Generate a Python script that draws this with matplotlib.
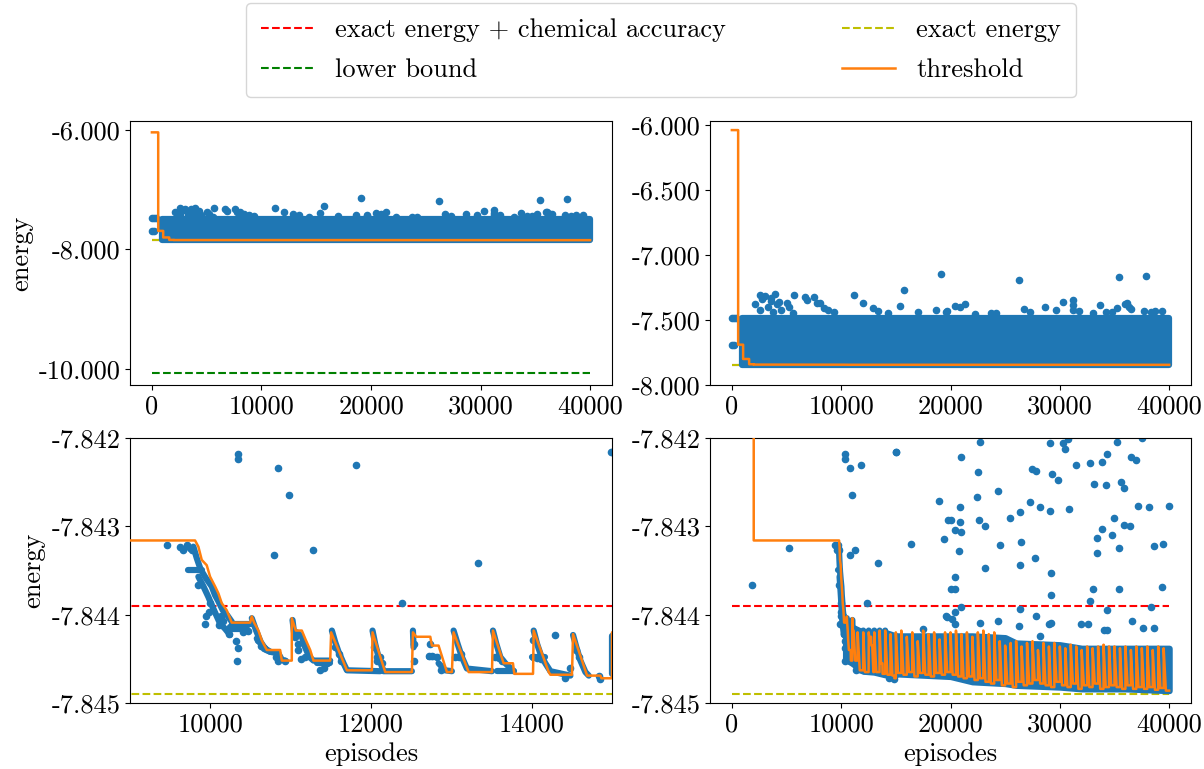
import matplotlib
matplotlib.use("Agg")
import matplotlib.pyplot as plt
from matplotlib.ticker import FuncFormatter, FixedLocator
from matplotlib.lines import Line2D

plt.rcParams['font.family'] = ['cmr10', 'DejaVu Serif']
plt.rcParams['font.size'] = 19
plt.rcParams['axes.unicode_minus'] = False
plt.rcParams['mathtext.fontset'] = 'cm'

C_PTS = '#1f77b4'
C_THR = '#ff7f0e'

# ---------------- reference lines ----------------
EXACT = -7.8449
CHEM = -7.8439
LOWER = -10.067
line_x = [0, 40000]

# ---------------- threshold ----------------
thr_head_x = [0, 575, 575, 1030, 1030, 1580, 1580, 2000, 2000, 9810,
              9851, 9893, 9955, 9997, 10059, 10101, 10142, 10204, 10267, 10495,
              10516, 10545, 10599, 10640, 10703, 10869, 10890, 11014,
              11014, 11064, 11139, 11180, 11243, 11284, 11492,
              11504, 11700, 12011,
              12019, 12177, 12509,
              12522, 12563, 12738, 12758, 12841, 12945, 13007,
              13028, 13215, 13506,
              13518, 13651, 13767, 13784, 14017,
              14025, 14212, 14233, 14502,
              14515, 14690, 14856, 14868, 15000]
thr_head_y = [-6.04, -6.04, -7.69, -7.69, -7.80, -7.80, -7.8405, -7.8405, -7.84316, -7.84316,
              -7.84323, -7.84338, -7.84344, -7.84357, -7.84368, -7.84376, -7.84387, -7.84395, -7.84409, -7.84409,
              -7.84402, -7.84409, -7.84418, -7.84429, -7.84440, -7.84440, -7.84452, -7.84452,
              -7.84404, -7.84418, -7.84418, -7.84427, -7.84440, -7.84452, -7.84452,
              -7.84420, -7.84463, -7.84463,
              -7.84420, -7.84465, -7.84465,
              -7.84420, -7.84425, -7.84425, -7.84435, -7.84435, -7.84465, -7.84465,
              -7.84420, -7.84465, -7.84465,
              -7.84418, -7.84455, -7.84455, -7.84467, -7.84467,
              -7.84418, -7.84465, -7.84468, -7.84468,
              -7.84422, -7.84469, -7.84469, -7.84472, -7.84472]

cycle_start = list(range(15000, 40000, 500))
cycle_top = [-7.84420, -7.84418, -7.84425, -7.84420, -7.84430, -7.84418, -7.84422, -7.84420, -7.84428, -7.84420,
             -7.84420, -7.84418, -7.84422, -7.84420, -7.84425, -7.84420, -7.84418, -7.84422, -7.84420, -7.84430,
             -7.84435, -7.84432, -7.84430, -7.84436, -7.84432, -7.84430, -7.84440, -7.84432, -7.84436, -7.84432,
             -7.84436, -7.84438, -7.84434, -7.84436, -7.84440, -7.84436, -7.84438, -7.84436, -7.84434, -7.84436,
             -7.84436, -7.84438, -7.84436, -7.84440, -7.84436, -7.84438, -7.84436, -7.84440, -7.84436, -7.84438]
cycle_bottom = [-7.84466, -7.84468, -7.84465, -7.84470, -7.84466, -7.84468, -7.84470, -7.84466, -7.84468, -7.84465,
                -7.84468, -7.84470, -7.84472, -7.84470, -7.84474, -7.84472, -7.84476, -7.84478, -7.84474, -7.84480,
                -7.84478, -7.84482, -7.84476, -7.84480, -7.84478, -7.84474, -7.84478, -7.84480, -7.84482, -7.84476,
                -7.84480, -7.84482, -7.84478, -7.84484, -7.84480, -7.84482, -7.84478, -7.84484, -7.84482, -7.84480,
                -7.84482, -7.84484, -7.84480, -7.84484, -7.84482, -7.84484, -7.84482, -7.84485, -7.84483, -7.84486]
FALL = 200
CYCLE = 500

thr_x = list(thr_head_x)
thr_y = list(thr_head_y)
for s, t, b in zip(cycle_start, cycle_top, cycle_bottom):
    thr_x += [s, s + FALL, s + CYCLE]
    thr_y += [t, b, b]

# ---------------- episodes energies: top panels ----------------
bulk_x = [950, 40000]
bulk_hi = [-7.485, -7.485]
bulk_lo = [-7.845, -7.845]

early_x = [0, 150, 350, 0, 200]
early_y = [-7.482, -7.482, -7.482, -7.69, -7.69]

top_out_x = [2130, 2587, 3043, 3591, 3957, 4088, 5000, 5695, 7550, 8070, 8830, 11206, 12030, 12890,
             15383, 15750, 19100, 18670, 19650, 26230, 35400, 37910, 19590, 20430, 20900, 21340,
             22240, 23740, 26740, 28640, 29680, 30310, 31220, 31220, 31220, 33660, 35190, 36100,
             36300, 36500, 37680, 38690, 39370, 34730, 33050,
             2800, 3300, 3600, 4300, 4500, 2600, 3800, 5200, 5600, 6700, 6900, 7800, 8400, 9300,
             13400, 14300, 17000, 24200, 27300, 31800, 34200, 36000, 38300]
top_out_y = [-7.38, -7.311, -7.317, -7.355, -7.304, -7.38, -7.368, -7.311, -7.324, -7.368, -7.426, -7.311, -7.373, -7.406,
             -7.393, -7.271, -7.147, -7.426, -7.431, -7.195, -7.166, -7.163, -7.437, -7.393, -7.40, -7.376,
             -7.452, -7.45, -7.414, -7.40, -7.42, -7.363, -7.347, -7.388, -7.42, -7.388, -7.406, -7.368,
             -7.40, -7.414, -7.43, -7.43, -7.43, -7.44, -7.45,
             -7.34, -7.40, -7.33, -7.36, -7.42, -7.42, -7.44, -7.40, -7.45, -7.32, -7.35, -7.37, -7.41, -7.44,
             -7.43, -7.45, -7.44, -7.45, -7.44, -7.43, -7.44, -7.38, -7.44]

# ---------------- episodes energies: bottom panels ----------------
low_band_x = [15000, 20000, 22000, 25000, 26000, 30000, 32000, 36000, 40000]
low_band_hi = [-7.84424, -7.84424, -7.84424, -7.84426, -7.84432, -7.84434, -7.84438, -7.84438, -7.84438]
low_band_lo = [-7.84467, -7.84470, -7.84476, -7.84478, -7.84480, -7.84482, -7.84484, -7.84484, -7.84486]

# same episodes 10300-15000 seen at the coarse x scale of the full-range panel
coarse_band_x = [10400, 11000, 12000, 13000, 14000, 15000]
coarse_band_hi = [-7.84412, -7.84414, -7.84420, -7.84420, -7.84420, -7.84424]
coarse_band_lo = [-7.84450, -7.84455, -7.84464, -7.84465, -7.84468, -7.84468]

low_x = [9457, 9623, 9656, 9714, 9748, 9772, 10350, 10350, 10844, 10981, 11811, 10798, 11284, 10329,
         9934, 9947, 10350, 10321, 10238, 9843, 9997, 9984, 10113, 10130, 10163, 10246, 10412, 10474,
         10599, 10628, 10670, 10819, 10848, 10931, 11089, 11126, 11180, 11097, 11056, 11367, 11409,
         11450, 11596, 11625, 11554, 12073, 12106,
         12032, 12073, 12135, 12385, 12530, 12530, 12717, 12758, 12821, 12875, 12729, 13049, 13091,
         13120, 13331, 13547, 13589, 13630, 14017, 14067, 14116, 14017, 14295, 14419, 14482, 14557,
         14586, 14835, 14856, 14988,
         1798, 5204,
         15003, 16343, 17469, 18929, 19416, 20000, 20000, 19600, 22734, 21000, 22490, 22430, 24347,
         20908, 19800, 20900, 20450, 20950, 20756, 20452, 20450, 20400, 19650, 20150, 20400, 21000,
         22570, 23190, 24560, 23190, 22670, 24310, 25470, 26380, 26440, 26380, 26380, 26290, 27450,
         27840, 27300, 28150, 27760, 27850, 29125, 29280, 29790, 29125, 29190, 29190, 29000, 29150,
         30250, 30490, 30740, 30830, 31470, 32720, 33850, 34360, 33170, 34210, 35270, 37560, 36490,
         36950, 35610, 35830, 34970, 33850, 33390, 33390, 34810, 35420, 35910, 36430, 37190, 38200,
         38650, 39410, 39960, 32990, 35420, 39380, 32780, 34360, 38320, 36580, 37650, 38650, 31930,
         32570, 34000, 34300, 28150]
low_y = [-7.84321, -7.84323, -7.84327, -7.84321, -7.84325, -7.84327, -7.84218, -7.84224, -7.84234,
         -7.84264, -7.84230, -7.84333, -7.84327, -7.84452, -7.84410, -7.84402, -7.84438, -7.84430,
         -7.84422, -7.84366, -7.84387, -7.84397, -7.84412, -7.84402, -7.84407, -7.84414, -7.84420,
         -7.84418, -7.84429, -7.84435, -7.84438, -7.84448, -7.84452, -7.84453, -7.84440, -7.84450,
         -7.84448, -7.84433, -7.84425, -7.84463, -7.84460, -7.84455, -7.84444, -7.84452, -7.84437,
         -7.84452, -7.84448,
         -7.84437, -7.84448, -7.84455, -7.84387, -7.84433, -7.84452, -7.84447, -7.84447, -7.84448,
         -7.84463, -7.84433, -7.84448, -7.84448, -7.84444, -7.84341, -7.84448, -7.84449, -7.84452,
         -7.84448, -7.84449, -7.84450, -7.84429, -7.84423, -7.84472, -7.84460, -7.84440, -7.84448,
         -7.84469, -7.84473, -7.84216,
         -7.843665, -7.84325,
         -7.84216, -7.84320, -7.84416, -7.84271, -7.84314, -7.84293, -7.84371, -7.84402, -7.84204,
         -7.84221, -7.84239, -7.84267, -7.84260, -7.84278, -7.84293, -7.84295, -7.84304, -7.84306,
         -7.84328, -7.84357, -7.84371, -7.84397, -7.84403, -7.84405, -7.84410, -7.84391, -7.84293,
         -7.84300, -7.84321, -7.84347, -7.84409, -7.84407, -7.84291, -7.84284, -7.84318, -7.84344,
         -7.84394, -7.84413, -7.84235, -7.84237, -7.84272, -7.84278, -7.84336, -7.84402, -7.84206,
         -7.84241, -7.84247, -7.84283, -7.84353, -7.84378, -7.84411, -7.84409, -7.84206, -7.84213,
         -7.84201, -7.84280, -7.84231, -7.84228, -7.84227, -7.84218, -7.84252, -7.84253, -7.84205,
         -7.84200, -7.84221, -7.84225, -7.84250, -7.84257, -7.84291, -7.84303, -7.84313, -7.84330,
         -7.84310, -7.84324, -7.84298, -7.84300, -7.84277, -7.84278, -7.84322, -7.84320, -7.84277,
         -7.84371, -7.84371, -7.84369, -7.84385, -7.84395, -7.84391, -7.84407, -7.84415, -7.84415,
         -7.84411, -7.84411, -7.84417, -7.84417, -7.84424]

# dense clusters of episodes (traced as paths of overlapping points)
cluster_x = [
    [9789, 9831, 9880, 9947, 10017, 10059, 10101, 10155, 10213, 10267],
    [9727, 9893],
    [9851, 9914, 9976, 10017, 10071, 10121, 10184, 10246],
    [10267, 10516],
    [10246, 10453],
    [10516, 10570, 10628, 10694, 10744, 10848, 10890, 10931],
    [10578, 10661, 10744],
    [11023, 11043, 11077, 11139, 11180, 11234, 11284, 11492],
    [11326, 11492],
    [11513, 11554, 11596, 11658, 11700, 12115],
    [12019, 12052, 12094, 12156, 12509],
    [12522, 12530],
    [12717, 12821],
    [12841, 12924, 13007],
    [13028, 13078, 13132, 13194, 13506],
    [13049, 13120],
    [13518, 13560, 13610, 13672, 13776],
    [13568, 13776],
    [14025, 14067, 14116, 14170, 14233, 14482],
    [14004, 14170],
    [14515, 14557, 14607, 14669, 14711],
]
cluster_y = [
    [-7.84323, -7.84336, -7.84349, -7.84359, -7.84368, -7.84378, -7.84385, -7.84395, -7.84401, -7.84408],
    [-7.84349, -7.84349],
    [-7.84357, -7.84368, -7.84380, -7.84389, -7.84400, -7.84410, -7.84416, -7.84423],
    [-7.84410, -7.84410],
    [-7.84416, -7.84416],
    [-7.84404, -7.84418, -7.84431, -7.84440, -7.84442, -7.84444, -7.84451, -7.84452],
    [-7.84427, -7.84437, -7.84442],
    [-7.84406, -7.84421, -7.84420, -7.84425, -7.84437, -7.84448, -7.84452, -7.84452],
    [-7.84455, -7.84455],
    [-7.84418, -7.84431, -7.84442, -7.84455, -7.84463, -7.84464],
    [-7.84418, -7.84433, -7.84448, -7.84464, -7.84464],
    [-7.84418, -7.84437],
    [-7.84448, -7.84448],
    [-7.84455, -7.84463, -7.84464],
    [-7.84418, -7.84433, -7.84448, -7.84461, -7.84464],
    [-7.84448, -7.84448],
    [-7.84418, -7.84433, -7.84448, -7.84455, -7.84464],
    [-7.84464, -7.84464],
    [-7.84418, -7.84433, -7.84446, -7.84455, -7.84464, -7.84469],
    [-7.84448, -7.84448],
    [-7.84423, -7.84437, -7.84452, -7.84465, -7.84469],
]

# ---------------- tick labels ----------------
yt_tl = [-6.0, -8.0, -10.0]
yt_tr = [-6.0, -6.5, -7.0, -7.5, -8.0]
yt_b = [-7.842, -7.843, -7.844, -7.845]
xt_full = [0, 10000, 20000, 30000, 40000]
xt_zoom = [10000, 12000, 14000]

MS = 20          # scatter marker area (pt^2)
MLW = 4.47       # marker diameter in pt, for dense clusters

W, H = 1204, 769
fig = plt.figure(figsize=(W / 100, H / 100), dpi=100)


def box(l, t, r, b):
    return [l / W, 1 - b / H, (r - l) / W, (b - t) / H]


ax_tl = fig.add_axes(box(130, 121, 612, 385))
ax_tr = fig.add_axes(box(710, 121, 1191, 385))
ax_bl = fig.add_axes(box(130, 438, 612, 703))
ax_br = fig.add_axes(box(710, 438, 1191, 703))

yfmt = FuncFormatter(lambda v, p: f"{v:.3f}")
xfmt = FuncFormatter(lambda v, p: f"{int(round(v))}")


def ref_lines(ax, lower=True):
    ax.plot(line_x, [CHEM, CHEM], '--', color='r', lw=1.5, zorder=1)
    if lower:
        ax.plot(line_x, [LOWER, LOWER], '--', color='g', lw=1.5, zorder=1)
    ax.plot(line_x, [EXACT, EXACT], '--', color='y', lw=1.5, zorder=1)


for ax in (ax_tl, ax_tr):
    ref_lines(ax, lower=(ax is ax_tl))
    ax.fill_between(bulk_x, bulk_lo, bulk_hi, color=C_PTS, lw=MLW, edgecolor=C_PTS,
                    joinstyle='round', zorder=2)
    ax.scatter(early_x, early_y, s=MS, color=C_PTS, zorder=2)
    ax.scatter(top_out_x, top_out_y, s=MS, color=C_PTS, zorder=2)
    ax.plot(thr_x, thr_y, color=C_THR, lw=1.8, zorder=3)
    ax.xaxis.set_major_locator(FixedLocator(xt_full))
    ax.xaxis.set_major_formatter(xfmt)
    ax.yaxis.set_major_formatter(yfmt)
    ax.set_xlim(-2000, 42000)

ax_tl.set_ylim(-10.27, -5.85)
ax_tl.yaxis.set_major_locator(FixedLocator(yt_tl))
ax_tr.set_ylim(-8.0, -5.97)
ax_tr.yaxis.set_major_locator(FixedLocator(yt_tr))

for ax in (ax_bl, ax_br):
    ref_lines(ax, lower=False)
    ax.fill_between(low_band_x, low_band_lo, low_band_hi, color=C_PTS, lw=MLW,
                    edgecolor=C_PTS, joinstyle='round', zorder=2)
    for cx, cy in zip(cluster_x, cluster_y):
        ax.plot(cx, cy, color=C_PTS, lw=MLW, solid_capstyle='round',
                solid_joinstyle='round', zorder=2)
    ax.scatter(low_x, low_y, s=MS, color=C_PTS, zorder=2)
    ax.plot(thr_x, thr_y, color=C_THR, lw=1.8, zorder=3)
    ax.set_ylim(-7.845, -7.842)
    ax.yaxis.set_major_locator(FixedLocator(yt_b))
    ax.yaxis.set_major_formatter(yfmt)
    ax.xaxis.set_major_formatter(xfmt)
    ax.set_xlabel('episodes')

ax_br.fill_between(coarse_band_x, coarse_band_lo, coarse_band_hi, color=C_PTS, lw=MLW,
                   edgecolor=C_PTS, joinstyle='round', zorder=2)

ax_bl.set_xlim(9000, 15000)
ax_bl.xaxis.set_major_locator(FixedLocator(xt_zoom))
ax_br.set_xlim(-2000, 42000)
ax_br.xaxis.set_major_locator(FixedLocator(xt_full))

ax_tl.set_ylabel('energy')
ax_bl.set_ylabel('energy')

for ax in (ax_tl, ax_tr, ax_bl, ax_br):
    ax.tick_params(labelsize=19)

handles = [Line2D([], [], ls='--', color='r', lw=1.5),
           Line2D([], [], ls='--', color='g', lw=1.5),
           Line2D([], [], ls='--', color='y', lw=1.5),
           Line2D([], [], ls='-', color=C_THR, lw=1.8)]
labels = ['exact energy + chemical accuracy', 'lower bound', 'exact energy', 'threshold']
fig.legend(handles, labels, loc='upper center', bbox_to_anchor=(0.549, 0.996), ncol=2,
           fontsize=19, columnspacing=4.42, labelspacing=0.62, borderpad=0.57,
           borderaxespad=0.0, frameon=True)

fig.savefig('out.png', dpi=100)
